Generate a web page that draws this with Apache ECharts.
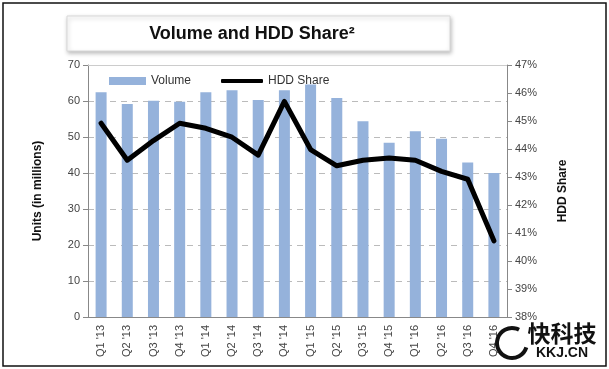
<!DOCTYPE html>
<html><head><meta charset="utf-8">
<script src="https://cdn.jsdelivr.net/npm/echarts@6/dist/echarts.min.js"></script>
<style>html,body{margin:0;padding:0;background:#fff}#c{width:609px;height:369px}</style>
</head><body><div id="c"></div>
<script>
const categories = ["Q1 '13","Q2 '13","Q3 '13","Q4 '13","Q1 '14","Q2 '14","Q3 '14","Q4 '14","Q1 '15","Q2 '15","Q3 '15","Q4 '15","Q1 '16","Q2 '16","Q3 '16","Q4 '16"];
const volume = [62.4, 59.2, 60.1, 59.8, 62.4, 63.0, 60.3, 63.0, 64.6, 60.8, 54.4, 48.4, 51.6, 49.5, 42.9, 40.0];
const hddShare = [44.92, 43.6, 44.3, 44.92, 44.74, 44.42, 43.78, 45.7, 43.98, 43.4, 43.6, 43.68, 43.6, 43.2, 42.92, 40.72];
const leftTicks = {min: 0, max: 70, interval: 10};
const rightTicks = {min: 38, max: 47, interval: 1};

const chart = echarts.init(document.getElementById('c'), null, {renderer: 'canvas'});
const font = 'Liberation Sans, Arial, sans-serif';
chart.setOption({
  animation: false,
  backgroundColor: '#fff',
  textStyle: {fontFamily: font},
  graphic: [
    {type: 'rect', shape: {x: 3, y: 3, width: 603, height: 363}, style: {fill: 'none', stroke: '#111', lineWidth: 1.5}, z: 0},
    {type: 'rect', shape: {x: 67, y: 16, width: 383, height: 35}, style: {fill: '#fff', stroke: '#d8d8d8', lineWidth: 1, shadowBlur: 4, shadowOffsetX: 1, shadowOffsetY: 2, shadowColor: 'rgba(0,0,0,0.25)'}, z: 1},
    {type: 'text', x: 252, y: 34, style: {text: 'Volume and HDD Share²', font: 'bold 18px ' + font, fill: '#111', textAlign: 'center', textVerticalAlign: 'middle'}, z: 2},
    {type: 'text', x: 562, y: 333, style: {text: '快科技', font: 'bold 23px "Noto Sans CJK SC"', fill: '#111', textAlign: 'center', textVerticalAlign: 'middle'}, z: 5},
    {type: 'text', x: 562, y: 353, style: {text: 'KKJ.CN', font: 'bold 14px ' + font, fill: '#111', textAlign: 'center', textVerticalAlign: 'middle'}, z: 5},
    {type: 'arc', shape: {cx: 512, cy: 343, r: 15, startAngle: 0.3, endAngle: 5.2}, style: {stroke: '#111', lineWidth: 4, fill: 'none'}, z: 5}
  ],
  legend: [
    {left: 104, top: 70,
     textStyle: {fontSize: 12, color: '#333', fontFamily: font},
     data: [{name: 'Volume', icon: 'rect', itemStyle: {color: '#95b2db'}}],
     itemWidth: 37, itemHeight: 8, itemGap: 4},
    {left: 216, top: 70,
     textStyle: {fontSize: 12, color: '#333', fontFamily: font},
     data: [{name: 'HDD Share', icon: 'roundRect', itemStyle: {color: '#000'}}],
     itemWidth: 42, itemHeight: 4}
  ],
  grid: {left: 88, right: 102, top: 65, bottom: 52},
  xAxis: [
    {type: 'category', data: categories, position: 'bottom',
     axisLine: {lineStyle: {color: '#888', width: 1}}, axisTick: {show: false},
     axisLabel: {rotate: 90, color: '#444', fontSize: 11, margin: 8, fontFamily: font, interval: 0}},
    {type: 'category', data: categories, position: 'top',
     axisLine: {show: true, lineStyle: {color: '#ccc', width: 1}}, axisTick: {show: false}, axisLabel: {show: false}}
  ],
  yAxis: [
    {type: 'value', min: leftTicks.min, max: leftTicks.max, interval: leftTicks.interval, position: 'left',
     name: 'Units (in millions)', nameLocation: 'middle', nameGap: 44, nameRotate: 90,
     nameTextStyle: {fontWeight: 'bold', fontSize: 12, color: '#111', fontFamily: font},
     axisLine: {show: true, lineStyle: {color: '#888'}}, axisTick: {show: true, length: 5, lineStyle: {color: '#888'}},
     axisLabel: {color: '#444', fontSize: 11, margin: 8, fontFamily: font},
     splitLine: {show: true, lineStyle: {color: '#bbb', type: [6, 5], width: 1}}},
    {type: 'value', min: rightTicks.min, max: rightTicks.max, interval: rightTicks.interval, position: 'right',
     name: 'HDD Share', nameLocation: 'middle', nameGap: 50, nameRotate: 90,
     nameTextStyle: {fontWeight: 'bold', fontSize: 12, color: '#111', fontFamily: font},
     axisLine: {show: true, lineStyle: {color: '#888'}}, axisTick: {show: true, length: 5, lineStyle: {color: '#888'}},
     axisLabel: {color: '#444', fontSize: 11, margin: 8, fontFamily: font, formatter: v => v + '%'},
     splitLine: {show: false}}
  ],
  series: [
    {name: 'Volume', type: 'bar', data: volume, xAxisIndex: 0, yAxisIndex: 0, barWidth: 11,
     itemStyle: {color: '#95b2db'}},
    {name: 'HDD Share', type: 'line', data: hddShare, xAxisIndex: 0, yAxisIndex: 1, symbol: 'none',
     lineStyle: {color: '#000', width: 5, join: 'round', cap: 'round'}, itemStyle: {color: '#000'}, z: 3}
  ]
});
</script></body></html>
